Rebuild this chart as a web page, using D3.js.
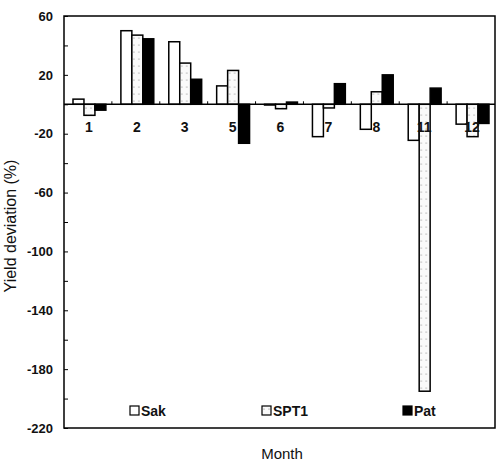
<!DOCTYPE html>
<html>
<head>
<meta charset="utf-8">
<script src="https://cdn.jsdelivr.net/npm/d3@7"></script>
<style>
  body { margin: 0; background: #fff; }
  text { font-family: "Liberation Sans", Arial, sans-serif; fill: #111; }
</style>
</head>
<body>
<div id="chart"></div>
<script>
// data
const months = ['1', '2', '3', '5', '6', '7', '8', '11', '12'];
const series = ['Sak', 'SPT1', 'Pat'];
const sak  = [3.5, 50, 42.5, 12.5, -0.5, -22, -17, -24.5, -13.5];
const spt1 = [-7.5, 47, 28, 23, -3, -2.5, 8.5, -195, -22];
const pat  = [-4, 44.5, 17, -26.5, 1.5, 14, 20, 11, -13];
const yTicks = d3.range(-220, 61, 20);
const yLabels = [60, 20, -20, -60, -100, -140, -180, -220];

const values = { Sak: sak, SPT1: spt1, Pat: pat };
const rows = months.map((m, i) => ({ month: m, bars: series.map(s => ({ s, v: values[s][i] })) }));

const width = 504, height = 466;
const plotL = 64, plotR = 495, plotT = 16, plotB = 428;

const svg = d3.select('#chart').append('svg')
    .attr('width', width)
    .attr('height', height);

const defs = svg.append('defs');
const dots = defs.append('pattern')
    .attr('id', 'dots')
    .attr('width', 5).attr('height', 7)
    .attr('patternUnits', 'userSpaceOnUse');
dots.append('rect').attr('width', 5).attr('height', 7).attr('fill', '#fafafa');
dots.append('circle').attr('cx', 2).attr('cy', 3).attr('r', 0.6).attr('fill', '#777');

const fills = { Sak: '#fff', SPT1: 'url(#dots)', Pat: '#000' };

const y = d3.scaleLinear().domain([-220, 60]).range([plotB, plotT]);
const x0 = d3.scaleBand().domain(months).range([plotL, plotR]).padding(0);
const x1 = d3.scaleBand().domain(series).range([9, x0.bandwidth() - 6]).padding(0);

// frame
svg.append('rect')
    .attr('x', plotL).attr('y', plotT)
    .attr('width', plotR - plotL).attr('height', plotB - plotT)
    .attr('fill', 'none').attr('stroke', '#000').attr('stroke-width', 1.5);

// y axis, ticks pointing inward
const yAxis = svg.append('g')
    .attr('transform', `translate(${plotL},0)`)
    .call(d3.axisLeft(y)
        .tickValues(yTicks)
        .tickSize(-4)
        .tickPadding(11)
        .tickFormat(d => yLabels.includes(d) ? d : ''));
yAxis.select('.domain').remove();
yAxis.selectAll('line').attr('stroke', '#000');
yAxis.selectAll('text')
    .style('font-size', '13px')
    .style('font-weight', 'bold')
    .attr('fill', '#111');

// bars
const groups = svg.append('g').selectAll('g')
    .data(rows)
    .join('g')
    .attr('transform', d => `translate(${x0(d.month)},0)`);

groups.selectAll('rect')
    .data(d => d.bars)
    .join('rect')
    .attr('x', d => x1(d.s))
    .attr('width', x1.bandwidth())
    .attr('y', d => y(Math.max(0, d.v)))
    .attr('height', d => Math.abs(y(d.v) - y(0)))
    .attr('fill', d => fills[d.s])
    .attr('stroke', '#000')
    .attr('stroke-width', 1.5);

// zero line with small ticks at group boundaries
svg.append('line')
    .attr('x1', plotL).attr('x2', plotR)
    .attr('y1', y(0)).attr('y2', y(0))
    .attr('stroke', '#000').attr('stroke-width', 1.5);
svg.append('g').selectAll('line')
    .data(months.slice(1))
    .join('line')
    .attr('x1', d => x0(d)).attr('x2', d => x0(d))
    .attr('y1', y(0)).attr('y2', y(0) - 3)
    .attr('stroke', '#000');

// month labels under the zero line
svg.append('g').selectAll('text')
    .data(months)
    .join('text')
    .attr('x', d => x0(d) + x0.bandwidth() / 2 + 1)
    .attr('y', y(0) + 28)
    .attr('text-anchor', 'middle')
    .style('font-size', '14px')
    .style('font-weight', 'bold')
    .text(d => d);

// legend
const legendX = [130, 262, 403];
const legend = svg.append('g').selectAll('g')
    .data(series)
    .join('g')
    .attr('transform', (d, i) => `translate(${legendX[i]},406)`);
legend.append('rect')
    .attr('width', 9).attr('height', 9)
    .attr('fill', d => fills[d])
    .attr('stroke', '#000').attr('stroke-width', 1.2);
legend.append('text')
    .attr('x', 11).attr('y', 9.5)
    .style('font-size', '14px')
    .style('font-weight', 'bold')
    .text(d => d);

// axis titles
svg.append('text')
    .attr('x', 282).attr('y', 459)
    .attr('text-anchor', 'middle')
    .style('font-size', '15px')
    .text('Month');

svg.append('text')
    .attr('transform', 'translate(16,226) rotate(-90)')
    .attr('text-anchor', 'middle')
    .style('font-size', '16px')
    .text('Yield deviation (%)');
</script>
</body>
</html>
